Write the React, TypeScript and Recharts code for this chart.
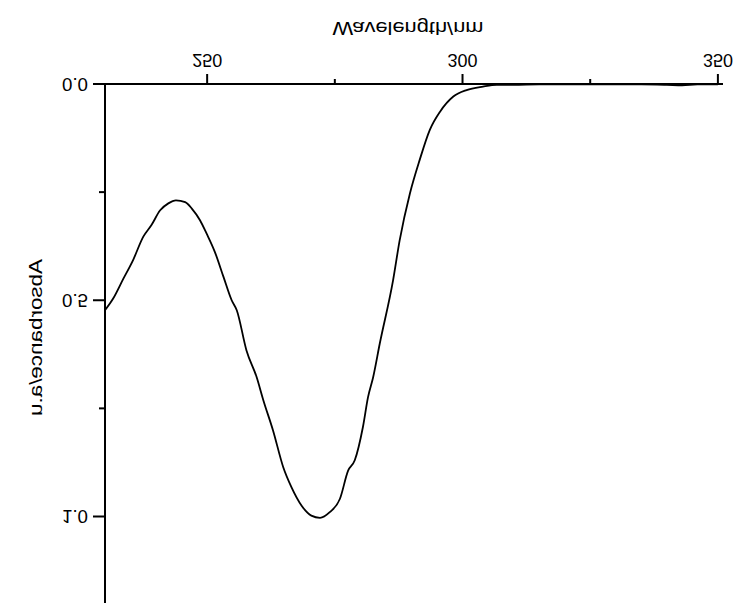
import React from 'react';
import { LineChart, Line, XAxis, YAxis, Label } from 'recharts';

// absorbance spectrum
const wavelength = [
  230.0, 231.6, 233.6, 235.5, 237.5, 239.1, 240.8, 242.4, 243.9, 245.7,
  247.0, 248.6, 249.9, 251.5, 253.2, 254.8, 255.8, 257.7, 259.7, 261.0,
  262.9, 264.9, 266.5, 268.5, 270.4, 272.1, 274.0, 276.0, 277.6, 278.9,
  280.5, 281.5, 282.5, 283.8, 286.4, 287.7, 289.7, 291.6, 293.6, 295.6,
  298.2, 300.8, 304.0, 306.7, 310, 315, 320, 325, 330, 335,
  340, 343, 346, 350,
];
const absorbance = [
  0.523, 0.496, 0.450, 0.407, 0.353, 0.326, 0.292, 0.276, 0.269, 0.273,
  0.288, 0.315, 0.346, 0.388, 0.446, 0.500, 0.523, 0.616, 0.678, 0.731,
  0.801, 0.886, 0.932, 0.975, 0.998, 1.003, 0.990, 0.959, 0.894, 0.870,
  0.793, 0.724, 0.678, 0.600, 0.454, 0.361, 0.253, 0.176, 0.106, 0.064,
  0.029, 0.014, 0.006, 0.002, 0.002, 0.001, 0.001, 0.001, 0.001, 0.001,
  0.002, 0.003, 0.001, 0.001,
];

const xTicks = [250, 275, 300, 325, 350];
const xTickLabels = ['250', '', '300', '', '350'];
const yTicks = [0, 0.25, 0.5, 0.75, 1.0];
const yTickLabels = ['0.0', '', '0.5', '', '1.0'];

const data = wavelength.map((w, i) => ({ wl: w, abs: absorbance[i] }));

const FONT = '"Liberation Sans", Arial, sans-serif';

const XTick = (props: any) => {
  const { x, y, payload } = props;
  const label = xTickLabels[xTicks.indexOf(payload.value)];
  return (
    <g>
      <line x1={x} y1={y} x2={x} y2={y + (label ? 10 : 5)} stroke="#000" strokeWidth={2} />
      {label && (
        <text x={x} y={y + 30} textAnchor="middle" fontFamily={FONT} fontSize={17.5}
          textLength={30} lengthAdjust="spacingAndGlyphs" fill="#000">
          {label}
        </text>
      )}
    </g>
  );
};

const YTick = (props: any) => {
  const { x, y, payload } = props;
  const label = yTickLabels[yTicks.indexOf(payload.value)];
  return (
    <g>
      <line x1={x - (label ? 12 : 6)} y1={y} x2={x} y2={y} stroke="#000" strokeWidth={2} />
      {label && (
        <text x={x - 17} y={y + 6.3} textAnchor="end" fontFamily={FONT} fontSize={17.5}
          textLength={26} lengthAdjust="spacingAndGlyphs" fill="#000">
          {label}
        </text>
      )}
    </g>
  );
};

export default function App() {
  return (
    <div style={{ position: 'absolute', left: 0, top: 0, width: 753, height: 605, background: '#fff', transform: 'scaleY(-1)' }}>
      <LineChart width={753} height={605} data={data} margin={{ top: 2, right: 30, left: 0, bottom: 0 }}>
        <XAxis
          dataKey="wl"
          type="number"
          domain={[230, 351]}
          ticks={xTicks}
          allowDataOverflow
          height={84}
          tickSize={0}
          tickMargin={0}
          tickLine={false}
          axisLine={{ stroke: '#000', strokeWidth: 2 }}
          tick={<XTick />}
        >
          <Label
            content={(p: any) => {
              const vb = p.viewBox;
              return (
                <text x={vb.x + vb.width / 2 - 6} y={vb.y + 62} textAnchor="middle" fontFamily={FONT}
                  fontSize={19} textLength={151} lengthAdjust="spacingAndGlyphs" fill="#000">
                  Wavelength/nm
                </text>
              );
            }}
          />
        </XAxis>
        <YAxis
          type="number"
          domain={[0, 1.2]}
          ticks={yTicks}
          allowDataOverflow
          width={105}
          tickSize={0}
          tickMargin={0}
          tickLine={false}
          axisLine={{ stroke: '#000', strokeWidth: 2 }}
          tick={<YTick />}
        >
          <Label
            content={() => (
              <text x={35} y={267.5} transform="rotate(-90, 35, 267.5)" textAnchor="middle"
                dominantBaseline="central" fontFamily={FONT} fontSize={19} textLength={157}
                lengthAdjust="spacingAndGlyphs" fill="#000">
                Absorbance/a.u
              </text>
            )}
          />
        </YAxis>
        <Line
          dataKey="abs"
          type="monotone"
          stroke="#000"
          strokeWidth={1.8}
          dot={false}
          isAnimationActive={false}
        />
      </LineChart>
    </div>
  );
}
